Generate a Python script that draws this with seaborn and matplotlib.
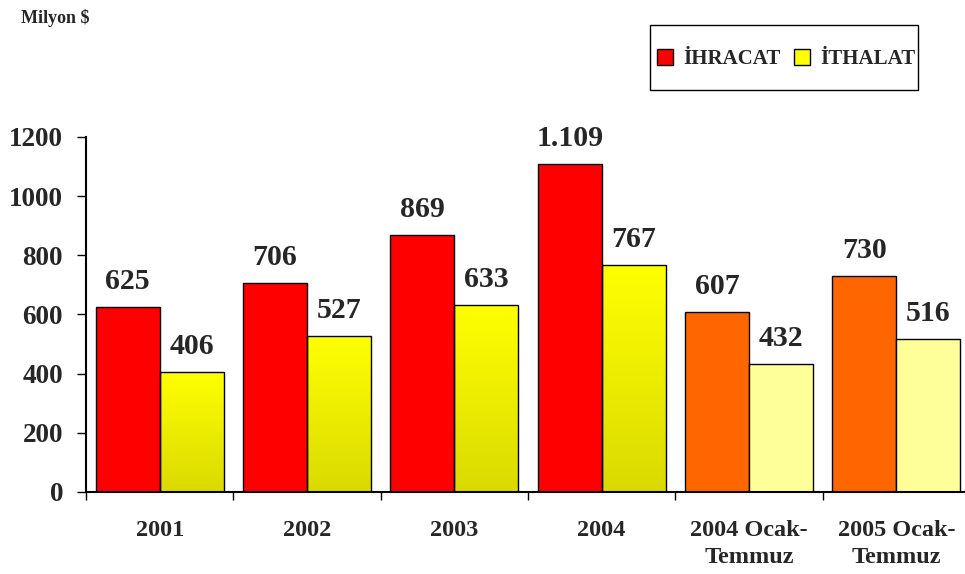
import numpy as np
import pandas as pd
import matplotlib
matplotlib.use("Agg")
import matplotlib.pyplot as plt
import seaborn as sns
from matplotlib.lines import Line2D
from matplotlib.patches import Rectangle
from matplotlib.colors import LinearSegmentedColormap

# data
periods = ["2001", "2002", "2003", "2004", "2004 Ocak-\nTemmuz", "2005 Ocak-\nTemmuz"]
ihracat = [625, 706, 869, 1109, 607, 730]
ithalat = [406, 527, 633, 767, 432, 516]
ihracat_labels = ["625", "706", "869", "1.109", "607", "730"]
ithalat_labels = ["406", "527", "633", "767", "432", "516"]
series = ["İHRACAT", "İTHALAT"]
yticks = [0, 200, 400, 600, 800, 1000, 1200]

df = pd.DataFrame({
    "donem": periods * 2,
    "deger": ihracat + ithalat,
    "seri": [series[0]] * len(periods) + [series[1]] * len(periods),
})

sns.set_style("white")
plt.rcParams["font.family"] = ["Liberation Serif", "DejaVu Serif"]
plt.rcParams["font.weight"] = "bold"

fig = plt.figure(figsize=(9.65, 5.74), dpi=100)
ax = fig.add_axes([0.0891, 0.1429, 0.9161, 0.6185])

sns.barplot(data=df, x="donem", y="deger", hue="seri", order=periods,
            hue_order=series, width=0.868, palette=["#FF0000", "#FFFF00"],
            edgecolor="black", linewidth=1.0, legend=False, ax=ax)

# recolour bars: last two periods are lighter
exp_colors = ["#FF0000"] * 4 + ["#FF6600"] * 2
for bar, c in zip(ax.containers[0], exp_colors):
    bar.set_facecolor(c)

# yellow gradient for import bars of full years
grad_cmap = LinearSegmentedColormap.from_list("yel", ["#DADA00", "#FFFF00"])
grad = np.linspace(0, 1, 256).reshape(-1, 1)
for i, bar in enumerate(ax.containers[1]):
    if i < 4:
        x0, w, h = bar.get_x(), bar.get_width(), bar.get_height()
        bar.set_facecolor("none")
        im = ax.imshow(grad, cmap=grad_cmap, origin="lower", aspect="auto",
                       extent=(x0, x0 + w, 0, h), zorder=bar.get_zorder() - 0.1)
        im.set_clip_path(bar)
    else:
        bar.set_facecolor("#FFFF99")

# value labels
for cont, labels in zip(ax.containers, [ihracat_labels, ithalat_labels]):
    for bar, lab in zip(cont, labels):
        ax.annotate(lab, (bar.get_x() + bar.get_width() / 2, bar.get_height()),
                    xytext=(0, 13), textcoords="offset points",
                    ha="center", va="baseline", fontsize=21.5, fontweight="bold")

ax.set_xlim(-0.5, len(periods) - 0.5)
ax.set_ylim(0, 1200)
ax.set_yticks(yticks)
ax.set_xticks(range(len(periods)))
ax.set_xticklabels(periods, fontsize=17.5, fontweight="bold", linespacing=1.4)
ax.set_xticks(np.arange(-0.5, len(periods), 1), minor=True)
ax.tick_params(axis="x", which="major", length=0, pad=20)
ax.tick_params(axis="x", which="minor", length=6, width=1, color="black",
               direction="out", bottom=True)
ax.tick_params(axis="y", length=6.5, width=1, color="black", direction="out",
               left=True, pad=10, labelsize=19.5)
for t in ax.get_yticklabels():
    t.set_fontweight("bold")
ax.set_xlabel("")
ax.set_ylabel("")

sns.despine(ax=ax)
for s in ["left", "bottom"]:
    ax.spines[s].set_color("black")
    ax.spines[s].set_linewidth(1.5)

fig.text(21 / 965, 1 - 23 / 574, "Milyon $", fontsize=13, fontweight="bold",
         va="baseline", ha="left")

# legend (frame drawn separately to get the wide, tall box)
handles = [Line2D([], [], marker="s", markersize=12, linestyle="none",
                  markerfacecolor=c, markeredgecolor="black", markeredgewidth=1)
           for c in ["#FF0000", "#FFFF00"]]
leg = fig.legend(handles, series, loc="center",
                 bbox_to_anchor=(785 / 965, 1 - 59 / 574), ncol=2,
                 frameon=False,
                 prop={"family": ["Liberation Serif"], "weight": "bold", "size": 15},
                 borderpad=0.2, handlelength=1.0, handleheight=0.7,
                 handletextpad=0.35, columnspacing=0.55)
fig.patches.append(Rectangle((650 / 965, 1 - 90 / 574), 268 / 965, 65 / 574,
                             transform=fig.transFigure, fill=False,
                             edgecolor="black", linewidth=1.0))

fig.savefig("out.png", dpi=100)
